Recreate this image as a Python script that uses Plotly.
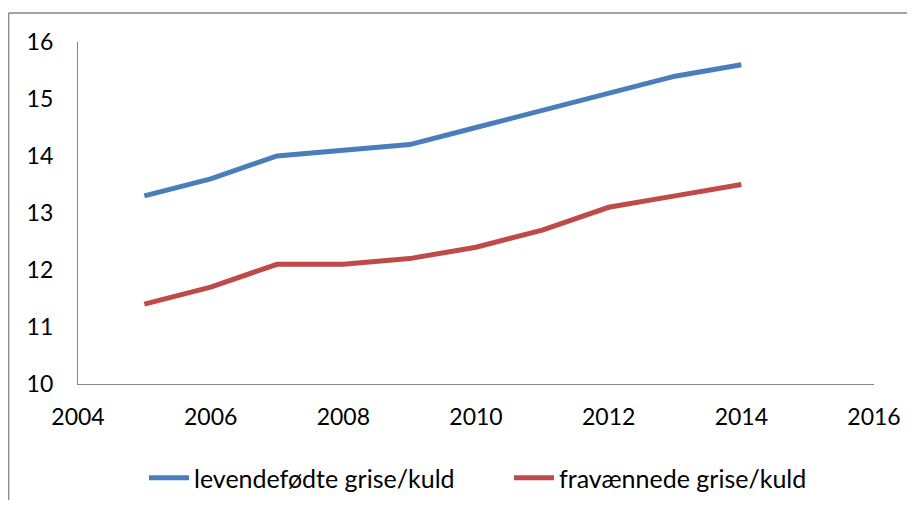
import plotly.graph_objects as go

years = [2005, 2006, 2007, 2008, 2009, 2010, 2011, 2012, 2013, 2014]
levendefodte = [13.3, 13.6, 14.0, 14.1, 14.2, 14.5, 14.8, 15.1, 15.4, 15.6]
fravaennede = [11.4, 11.7, 12.1, 12.1, 12.2, 12.4, 12.7, 13.1, 13.3, 13.5]
x_ticks = [2004, 2006, 2008, 2010, 2012, 2014, 2016]
y_ticks = [10, 11, 12, 13, 14, 15, 16]

# page has an 8px body margin
W, H = 899, 492
L, T = 70, 34
R = W - 866
B = H - 376
pw, ph = W - L - R, H - T - B

fig = go.Figure()
fig.add_trace(go.Scatter(x=years, y=levendefodte, mode="lines", name="levendefødte grise/kuld",
                         line=dict(color="#4A7EBB", width=5)))
fig.add_trace(go.Scatter(x=years, y=fravaennede, mode="lines", name="fravænnede grise/kuld",
                         line=dict(color="#BE4B48", width=5)))

font = dict(family="Lato, Carlito, 'Open Sans', sans-serif", size=23, color="#000000")

fig.update_layout(
    width=W, height=H,
    margin=dict(l=L, r=R, t=T, b=B, autoexpand=False),
    paper_bgcolor="white", plot_bgcolor="white",
    font=font,
    showlegend=True,
    legend=dict(orientation="h", xref="container", yref="container",
                x=136 / W, xanchor="left",
                y=1 - 470 / H, yanchor="middle",
                font=dict(size=25), itemwidth=40, entrywidth=310),
    xaxis=dict(range=[2004, 2016], tickvals=x_ticks, showgrid=False, zeroline=False,
               showline=True, linecolor="#868686", linewidth=1.3, ticks="",
               ticklabelstandoff=12),
    yaxis=dict(range=[10, 16], tickvals=y_ticks, showgrid=False, zeroline=False,
               showline=True, linecolor="#868686", linewidth=1.3, ticks="",
               ticklabelstandoff=19),
    shapes=[
        dict(type="line", xref="paper", yref="paper",
             x0=(0.7 - L) / pw, x1=(W + 20 - L) / pw,
             y0=(H - B - 5) / ph, y1=(H - B - 5) / ph,
             line=dict(color="#868686", width=1.3), layer="below"),
        dict(type="line", xref="paper", yref="paper",
             x0=(0.7 - L) / pw, x1=(0.7 - L) / pw,
             y0=(H - B - 5) / ph, y1=(H - B - H - 20) / ph,
             line=dict(color="#868686", width=1.3), layer="below"),
    ],
)

fig.write_html("out.html")
